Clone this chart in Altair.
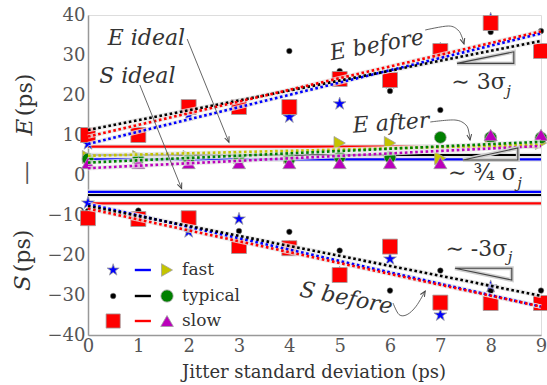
import math
import altair as alt
import pandas as pd

# ---------------- data ----------------
jitter = [0, 1, 2, 3, 4, 5, 6, 7, 8, 9]

# E before (upper group)
e_fast = [7.8, 10.5, 15, 17.5, 14.5, 17.8, 23, 31.5, 39, 31]
e_typical = [10.75, 10, 16.5, 17.5, 31, 26, 21, 16.25, 35.75, 36]
e_slow = [10, 10, 17, 17, 17, 24, 23.75, 31, 38, 31]
# S before (lower group)
s_fast = [-7, -10.5, -14.2, -11, -18, -24.5, -21, -35, -27.9, -32]
s_typical = [-9, -8.9, -13.75, -14, -14.2, -18.9, -28.9, -23.9, -29, -28.9]
s_slow = [-10.8, -11, -10.8, -17.75, -18.3, -25, -17.9, -31.9, -32, -32]
# E after
after_fast = [4.5, 4.5, 4.5, 4.5, 4.5, 8, 8, 4.2, 8.5, 8]
after_typical = [4, 4, 4, 4, 4, 4.5, 4.5, 9.4, 9.4, 9.3]
after_slow = [3, 3, 3, 3, 3, 3, 3, 3, 10, 10]

# trend lines, value at x=0 and x=9 (fast, typical, slow)
fit_start_e_before = [7.75, 11.25, 9.6]
fit_end_e_before = [35.4, 33.5, 35.9]
fit_start_s_before = [-7.25, -7.75, -8.4]
fit_end_s_before = [-32.9, -30.2, -32.9]
fit_start_e_after = [4.8, 3.1, 1.7]
fit_end_e_after = [7.6, 8.3, 7.25]
# ideal levels (fast, typical, slow)
ideal_e = [3.9, 5.0, 7.1]
ideal_s = [-4.2, -5.0, -7.1]

legend_labels = ["fast", "typical", "slow"]
x_ticks = [0, 1, 2, 3, 4, 5, 6, 7, 8, 9]
y_ticks = [-40, -30, -20, -10, 0, 10, 20, 30, 40]

# ---------------- styling ----------------
SERIF = "DejaVu Serif"
BLUE, BLACK, RED = "#0000ff", "#000000", "#ff0000"
YEL, GRN, MAG = "#c4c400", "#008000", "#bb00bb"
TXT = "#333333"
W, H = 453, 320
SX, SY = W / 9.0, H / 80.0

STAR = ("M0,-1L0.2245,-0.309L0.951,-0.309L0.363,0.118L0.588,0.809L0,0.382"
        "L-0.588,0.809L-0.363,0.118L-0.951,-0.309L-0.2245,-0.309Z")
HEAD = "M-0.45,1.05L0,0L0.45,1.05"

xs = alt.Scale(domain=[0, 9], nice=False, zero=False)
ys = alt.Scale(domain=[-40, 40], nice=False, zero=False)
x_axis = alt.Axis(values=x_ticks, title=None, grid=False, ticks=False,
                  labelFont=SERIF, labelFontSize=18, labelColor="#555",
                  labelPadding=2, domainColor="#999", domainWidth=1.5,
                  labelFlush=False, labelOverlap=False)
y_axis = alt.Axis(values=y_ticks, title=None, grid=False, ticks=False,
                  labelFont=SERIF, labelFontSize=18, labelColor="#555",
                  labelPadding=3, domainColor="#999", domainWidth=1.5,
                  labelFlush=False, labelOverlap=False)


def X(f="x"):
    return alt.X(f"{f}:Q", scale=xs, axis=x_axis)


def Y(f="y"):
    return alt.Y(f"{f}:Q", scale=ys, axis=y_axis)


def head_angle(x0, y0, x1, y1):
    dxp = (x1 - x0) * SX
    dyp = -(y1 - y0) * SY
    return math.degrees(math.atan2(dxp, -dyp)) % 360


layers = []

# ---------------- solid "ideal" lines ----------------
cols3 = [BLUE, BLACK, RED]
ideal_rows = []
for v, c in zip(ideal_e + ideal_s, cols3 + cols3):
    ideal_rows.append({"x": 0, "y": v, "x2": 9, "y2": v, "c": c})
ideal_df = pd.DataFrame(ideal_rows)
layers.append(alt.Chart(ideal_df).mark_rule(strokeWidth=4.5, color="#e2e2e2").encode(
    x=X(), y=Y(), x2="x2:Q", y2="y2:Q"))
layers.append(alt.Chart(ideal_df).mark_rule(strokeWidth=2.2).encode(
    x=X(), y=Y(), x2="x2:Q", y2="y2:Q", color=alt.Color("c:N", scale=None)))


# ---------------- markers ----------------
def pts(xv, yv, shape, fill, size, stroke="#a0a0a0", sw=0.8):
    df = pd.DataFrame({"x": xv, "y": yv})
    return alt.Chart(df).mark_point(shape=shape, filled=True, fill=fill, stroke=stroke,
                                    strokeWidth=sw, size=size, opacity=1).encode(x=X(), y=Y())


layers.append(pts(jitter + jitter, e_fast + s_fast, STAR, BLUE, 180))
layers.append(pts(jitter + jitter, e_typical + s_typical, "circle", BLACK, 32, stroke="#888", sw=0.5))
layers.append(pts(jitter + jitter, e_slow + s_slow, "square", RED, 225))
layers.append(pts(jitter, after_fast, "triangle-right", YEL, 170))
layers.append(pts(jitter, after_typical, "circle", GRN, 140))
layers.append(pts(jitter, after_slow, "triangle-up", MAG, 170))

# ---------------- dotted trend lines ----------------
trend_rows = []
for s0, s1, c in zip(fit_start_e_before, fit_end_e_before, cols3):
    trend_rows.append({"x": 0, "y": s0, "x2": 9, "y2": s1, "c": c})
for s0, s1, c in zip(fit_start_s_before, fit_end_s_before, cols3):
    trend_rows.append({"x": 0, "y": s0, "x2": 9, "y2": s1, "c": c})
for s0, s1, c in zip(fit_start_e_after, fit_end_e_after, [YEL, GRN, MAG]):
    trend_rows.append({"x": 0, "y": s0, "x2": 9, "y2": s1, "c": c})
trend_df = pd.DataFrame(trend_rows)
layers.append(alt.Chart(trend_df).mark_rule(strokeWidth=4.5, color="#e6e6e6", opacity=0.8).encode(
    x=X(), y=Y(), x2="x2:Q", y2="y2:Q"))
layers.append(alt.Chart(trend_df).mark_rule(strokeWidth=2.6, strokeDash=[2.6, 2.6]).encode(
    x=X(), y=Y(), x2="x2:Q", y2="y2:Q", color=alt.Color("c:N", scale=None)))

# ---------------- slope triangles ----------------
tri_x = [7.33, 8.46, 8.46, 7.33, 7.45, 8.54, 8.54, 7.45, 7.29, 8.42, 8.42, 7.29]
tri_y = [27.9, 30.8, 27.9, 27.9, 3.75, 6.75, 3.75, 3.75, -23.3, -23.3, -26.25, -23.3]
tri_g = ["a"] * 4 + ["b"] * 4 + ["c"] * 4
tri_df = pd.DataFrame({"x": tri_x, "y": tri_y, "g": tri_g, "o": [0, 1, 2, 3] * 3})
layers.append(alt.Chart(tri_df).mark_line(strokeWidth=4, color="#cfcfcf").encode(
    x=X(), y=Y(), detail="g:N", order="o:Q"))
layers.append(alt.Chart(tri_df).mark_line(strokeWidth=1.1, color="#444").encode(
    x=X(), y=Y(), detail="g:N", order="o:Q"))

# ---------------- arrows ----------------
straight = pd.DataFrame({"x": [1.97, 1.03], "y": [34.0, 22.5],
                         "x2": [2.80, 1.86], "y2": [8.2, -3.4]})
layers.append(alt.Chart(straight).mark_rule(strokeWidth=0.9, color="#555").encode(
    x=X(), y=Y(), x2="x2:Q", y2="y2:Q"))

curve_x = [6.70, 7.16, 7.35, 7.43, 7.47,
           6.80, 7.29, 7.51, 7.57, 7.59,
           6.06, 6.18, 6.34, 6.52, 6.70]
curve_y = [36.25, 37.25, 36.25, 34.5, 32.75,
           13.25, 13.75, 12.5, 10.5, 8.75,
           -32.0, -34.9, -34.9, -32.8, -29.0]
curve_g = ["eb"] * 5 + ["ea"] * 5 + ["sb"] * 5
curve_df = pd.DataFrame({"x": curve_x, "y": curve_y, "g": curve_g, "o": list(range(5)) * 3})
layers.append(alt.Chart(curve_df).mark_line(strokeWidth=0.9, color="#555", interpolate="cardinal").encode(
    x=X(), y=Y(), detail="g:N", order="o:Q"))

head_rows = []
for _, r in straight.iterrows():
    head_rows.append({"x": r["x2"], "y": r["y2"], "a": head_angle(r["x"], r["y"], r["x2"], r["y2"])})
for g in ["eb", "ea", "sb"]:
    sub = curve_df[curve_df["g"] == g].sort_values("o")
    p0, p1 = sub.iloc[-2], sub.iloc[-1]
    head_rows.append({"x": p1["x"], "y": p1["y"], "a": head_angle(p0["x"], p0["y"], p1["x"], p1["y"])})
head_df = pd.DataFrame(head_rows)
layers.append(alt.Chart(head_df).mark_point(shape=HEAD, filled=False, color="#444", strokeWidth=1,
                                           size=110, opacity=1).encode(
    x=X(), y=Y(), angle=alt.Angle("a:Q", scale=None)))

# ---------------- annotation texts ----------------
ann_df = pd.DataFrame({
    "t": ["E ideal", "S ideal", "E before", "E after", "S before"],
    "x": [1.16, 0.98, 5.74, 6.02, 5.13],
    "y": [34.25, 24.75, 32.5, 13.0, -30.75],
    "a": [0, 0, 350, 356, 11],
})
layers.append(alt.Chart(ann_df).mark_text(font=SERIF, fontStyle="italic", fontSize=22, color=TXT,
                                          align="center", baseline="middle").encode(
    x=X(), y=Y(), text="t:N", angle=alt.Angle("a:Q", scale=None)))

sig_df = pd.DataFrame({"t": ["∼ 3σ", "∼ ¾ σ", "∼ -3σ"],
                       "x": [8.30, 8.52, 8.33], "y": [23.25, 0.5, -18.5]})
layers.append(alt.Chart(sig_df).mark_text(font=SERIF, fontSize=22, color=TXT,
                                          align="right", baseline="middle").encode(
    x=X(), y=Y(), text="t:N"))
sub_df = pd.DataFrame({"t": ["j", "j", "j"],
                       "x": [8.31, 8.53, 8.34], "y": [21.0, -1.9, -20.5]})
layers.append(alt.Chart(sub_df).mark_text(font=SERIF, fontStyle="italic", fontSize=15, color=TXT,
                                          align="left", baseline="middle").encode(
    x=X(), y=Y(), text="t:N"))

# ---------------- legend (inside plot) ----------------
leg_y = [-23.75, -30.25, -36.5]
leg_sym_x = 0.50
leg_line_x0, leg_line_x1 = 0.93, 1.25
leg_tri_x = 1.57
leg_txt_x = 1.87
layers.append(pts([leg_sym_x], [leg_y[0]], STAR, BLUE, 160))
layers.append(pts([leg_sym_x], [leg_y[1]], "circle", BLACK, 32, stroke="#888", sw=0.5))
layers.append(pts([leg_sym_x], [leg_y[2]], "square", RED, 200))
leg_line_df = pd.DataFrame({"x": [leg_line_x0] * 3, "x2": [leg_line_x1] * 3,
                            "y": leg_y, "c": cols3})
layers.append(alt.Chart(leg_line_df).mark_rule(strokeWidth=2.4).encode(
    x=X(), y=Y(), x2="x2:Q", color=alt.Color("c:N", scale=None)))
layers.append(pts([leg_tri_x], [leg_y[0]], "triangle-right", YEL, 160))
layers.append(pts([leg_tri_x], [leg_y[1]], "circle", GRN, 150))
layers.append(pts([leg_tri_x], [leg_y[2]], "triangle-up", MAG, 160))
leg_txt_df = pd.DataFrame({"t": legend_labels, "x": [leg_txt_x] * 3, "y": leg_y})
layers.append(alt.Chart(leg_txt_df).mark_text(font=SERIF, fontSize=17, color=TXT,
                                              align="left", baseline="middle").encode(
    x=X(), y=Y(), text="t:N"))

# ---------------- axis titles as text ----------------
def label(txt, px, py, size, angle=0, style="normal", color=TXT):
    return alt.Chart(pd.DataFrame({"t": [txt]})).mark_text(
        font=SERIF, fontSize=size, fontStyle=style, color=color, angle=angle,
        align="center", baseline="middle").encode(
        x=alt.value(px), y=alt.value(py), text="t:N")


layers.append(label("E", -63, 112, 23, 270, "italic"))
layers.append(label("(ps)", -63, 80, 22, 270))
layers.append(label("—", -61, 158, 24, 270, color="#555"))
layers.append(label("S", -65, 268, 23, 270, "italic"))
layers.append(label("(ps)", -65, 236, 22, 270))
layers.append(label("Jitter standard deviation (ps)", 226, 358, 18))

chart = alt.layer(*layers).properties(
    width=W, height=H,
    autosize=alt.AutoSizeParams(type="none"),
    padding={"left": 88, "top": 15, "right": 6, "bottom": 50},
).configure_view(stroke="#999", strokeWidth=1.5).configure(background="white")

chart.save("out.html", embed_options={"renderer": "svg", "actions": False})
